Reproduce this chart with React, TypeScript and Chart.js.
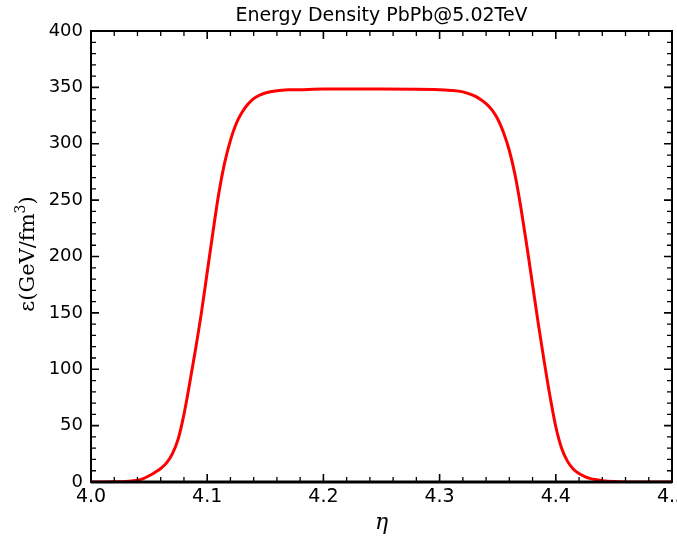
import React, { useEffect, useRef } from "react";
import { Chart, registerables } from "chart.js";

Chart.register(...registerables);

const chartTitle = "Energy Density PbPb@5.02TeV";
const xAxisLabel = "η";

const etaValues = [
  4.0, 4.01, 4.02, 4.03, 4.035, 4.04, 4.045, 4.05, 4.055, 4.06, 4.065, 4.07, 4.075, 4.08, 4.085,
  4.09, 4.095, 4.1, 4.105, 4.11, 4.115, 4.12, 4.125, 4.13, 4.135, 4.14, 4.145, 4.15, 4.16, 4.17,
  4.18, 4.2, 4.25, 4.3, 4.31, 4.32, 4.325, 4.33, 4.335, 4.34, 4.345, 4.35, 4.355, 4.36, 4.365,
  4.37, 4.375, 4.38, 4.385, 4.39, 4.395, 4.4, 4.405, 4.41, 4.415, 4.42, 4.425, 4.43, 4.435, 4.44,
  4.45, 4.46, 4.48, 4.5,
];
const energyDensity = [
  0, 0.05, 0.2, 0.5, 0.9, 1.5, 3, 5.5, 8.5, 12, 17, 25, 38, 60, 88,
  118, 150, 186, 222, 256, 283, 303, 318, 328, 335, 340, 343, 345, 347, 347.8,
  348, 348.5, 348.5, 348, 347.3, 346, 344.5, 342.5, 339.5, 335.5, 330, 322, 310, 294, 272,
  243, 210, 175, 140, 107, 76, 49, 30, 18.5, 11.5, 7.5, 4.8, 3, 2, 1.2,
  0.4, 0.1, 0, 0,
];

const xMajorTicks = [4.0, 4.1, 4.2, 4.3, 4.4, 4.5];
const xTickLabels = ["4.0", "4.1", "4.2", "4.3", "4.4", "4.5"];
const yMajorTicks = [0, 50, 100, 150, 200, 250, 300, 350, 400];
const yTickLabels = ["0", "50", "100", "150", "200", "250", "300", "350", "400"];

const frameAndText = {
  id: "frameAndText",
  afterDraw(chart: any) {
    const ctx = chart.ctx as CanvasRenderingContext2D;
    const { left, right, top, bottom } = chart.chartArea;
    const xs = chart.scales.x;
    const ys = chart.scales.y;
    ctx.save();
    ctx.strokeStyle = "#000";
    ctx.fillStyle = "#000";

    // minor ticks
    ctx.lineWidth = 1.3;
    ctx.beginPath();
    for (let i = 0; i < xMajorTicks.length - 1; i++) {
      const a = xMajorTicks[i];
      const b = xMajorTicks[i + 1];
      for (let k = 1; k < 5; k++) {
        const px = xs.getPixelForValue(a + ((b - a) * k) / 5);
        ctx.moveTo(px, bottom); ctx.lineTo(px, bottom - 5);
        ctx.moveTo(px, top); ctx.lineTo(px, top + 5);
      }
    }
    for (let i = 0; i < yMajorTicks.length - 1; i++) {
      const a = yMajorTicks[i];
      const b = yMajorTicks[i + 1];
      for (let k = 1; k < 5; k++) {
        const py = ys.getPixelForValue(a + ((b - a) * k) / 5);
        ctx.moveTo(left, py); ctx.lineTo(left + 5, py);
        ctx.moveTo(right, py); ctx.lineTo(right - 5, py);
      }
    }
    ctx.stroke();

    // major ticks
    ctx.lineWidth = 1.6;
    ctx.beginPath();
    xMajorTicks.forEach((v) => {
      const px = xs.getPixelForValue(v);
      ctx.moveTo(px, bottom); ctx.lineTo(px, bottom - 8);
      ctx.moveTo(px, top); ctx.lineTo(px, top + 8);
    });
    yMajorTicks.forEach((v) => {
      const py = ys.getPixelForValue(v);
      ctx.moveTo(left, py); ctx.lineTo(left + 8, py);
      ctx.moveTo(right, py); ctx.lineTo(right - 8, py);
    });
    ctx.stroke();

    // frame
    ctx.lineWidth = 2;
    ctx.strokeRect(left, top, right - left, bottom - top);
    ctx.lineWidth = 3;
    ctx.beginPath();
    ctx.moveTo(left, bottom); ctx.lineTo(right, bottom);
    ctx.stroke();

    // tick labels
    ctx.font = '19px "DejaVu Sans"';
    ctx.textAlign = "center";
    ctx.textBaseline = "middle";
    xMajorTicks.forEach((v, i) => {
      ctx.fillText(xTickLabels[i], xs.getPixelForValue(v), bottom + 15);
    });
    ctx.font = '18px "DejaVu Sans"';
    ctx.textAlign = "right";
    yMajorTicks.forEach((v, i) => {
      ctx.fillText(yTickLabels[i], left - 8, ys.getPixelForValue(v));
    });

    // title
    ctx.font = '19px "DejaVu Sans"';
    ctx.textAlign = "center";
    ctx.fillText(chartTitle, (left + right) / 2, 16);

    // x axis label
    ctx.font = 'italic 22px "DejaVu Serif"';
    ctx.fillText(xAxisLabel, (left + right) / 2, 523);

    // y axis label: ε(GeV/fm³)
    ctx.translate(29, 254);
    ctx.rotate(-Math.PI / 2);
    const mainFont = '21px "DejaVu Serif"';
    const supFont = '14px "DejaVu Serif"';
    const p1 = "ε(GeV/fm";
    const p2 = "3";
    const p3 = ")";
    ctx.font = mainFont;
    const w1 = ctx.measureText(p1).width;
    const w3 = ctx.measureText(p3).width;
    ctx.font = supFont;
    const w2 = ctx.measureText(p2).width;
    const total = w1 + w2 + w3;
    let x0 = -total / 2;
    ctx.textAlign = "left";
    ctx.font = mainFont;
    ctx.fillText(p1, x0, 0);
    x0 += w1;
    ctx.font = supFont;
    ctx.fillText(p2, x0, -8);
    x0 += w2;
    ctx.font = mainFont;
    ctx.fillText(p3, x0, 0);
    ctx.restore();
  },
};

export default function App() {
  const canvasRef = useRef<HTMLCanvasElement | null>(null);

  useEffect(() => {
    if (!canvasRef.current) return;
    const points = etaValues.map((x, i) => ({ x, y: energyDensity[i] }));
    const chart = new Chart(canvasRef.current, {
      type: "line",
      data: {
        datasets: [
          {
            data: points,
            borderColor: "#ff0000",
            borderWidth: 3,
            pointRadius: 0,
            fill: false,
            cubicInterpolationMode: "monotone",
          },
        ],
      },
      options: {
        animation: false,
        responsive: false,
        maintainAspectRatio: false,
        devicePixelRatio: 1,
        layout: { padding: { left: 91, right: 5, top: 31, bottom: 56 } },
        plugins: { legend: { display: false }, title: { display: false }, tooltip: { enabled: false } },
        scales: {
          x: { type: "linear", min: 4.0, max: 4.5, display: false },
          y: { type: "linear", min: 0, max: 400, display: false },
        },
      },
      plugins: [frameAndText],
    });
    return () => chart.destroy();
  }, []);

  return (
    <div style={{ position: "fixed", left: 0, top: 0, width: 677, height: 538, background: "#fff" }}>
      <canvas ref={canvasRef} width={677} height={538} style={{ display: "block" }} />
    </div>
  );
}
